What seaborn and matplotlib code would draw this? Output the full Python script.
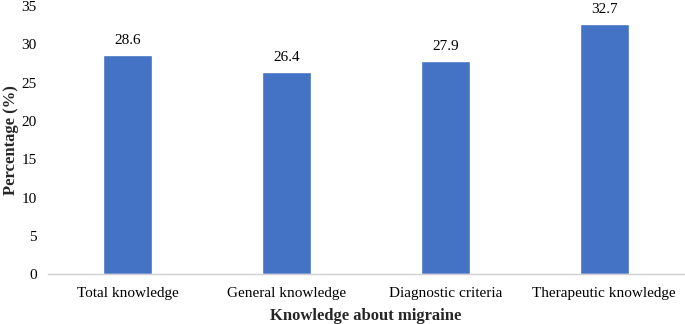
import matplotlib
matplotlib.use("Agg")
import matplotlib.pyplot as plt
import seaborn as sns
import pandas as pd

# data
categories = ["Total knowledge", "General knowledge", "Diagnostic criteria", "Therapeutic knowledge"]
percentages = [28.6, 26.4, 27.9, 32.7]

df = pd.DataFrame({"category": categories, "pct": percentages})

sns.set_style("white")
plt.rcParams["font.family"] = ["Liberation Serif", "DejaVu Serif"]

fig = plt.figure(figsize=(6.85, 3.24), dpi=100)
ax = fig.add_axes([0.07, 0.154, 0.928, 0.827])

sns.barplot(data=df, x="category", y="pct", color="#4472C4", saturation=1, width=0.31, ax=ax)

# value labels above each bar
for i, v in enumerate(percentages):
    ax.text(i, v + 1.0, f"{v}", ha="center", va="bottom", fontsize=11, color="black")

ax.set_ylim(0, 35)
ax.set_yticks(range(0, 36, 5))
ax.set_xlim(-0.5, 3.5)
ax.tick_params(axis="both", labelsize=11, length=0, colors="black")
ax.tick_params(axis="x", pad=9)
ax.tick_params(axis="y", pad=8)
ax.set_xlabel("Knowledge about migraine", fontsize=12, fontweight="bold", labelpad=6)
ax.set_ylabel("Percentage (%)", fontsize=12, fontweight="bold", labelpad=2)

for s in ["top", "right", "left"]:
    ax.spines[s].set_visible(False)
ax.spines["bottom"].set_color("#D0D0D0")
ax.spines["bottom"].set_linewidth(1.0)

fig.savefig("out.png", dpi=100)
